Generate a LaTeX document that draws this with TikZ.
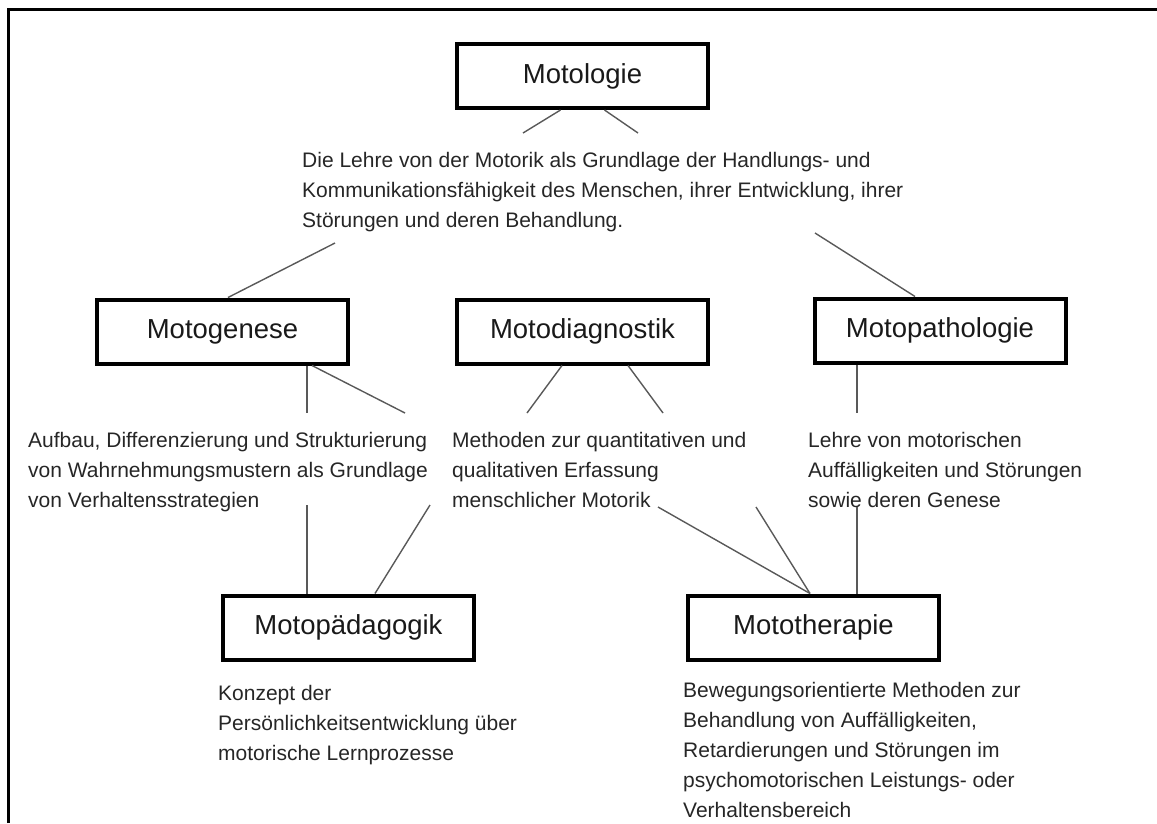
\documentclass[tikz,border=0pt]{standalone}
\usepackage{fontspec}
\setmainfont{Liberation Sans}
\usetikzlibrary{calc}

\tikzset{
	fach/.style={draw, line width=4pt, minimum width=251pt, minimum height=64pt, inner sep=0pt, font=\fontsize{27.5}{33}\selectfont, text=black!90},
	beschr/.style={anchor=north west, align=left, inner sep=0pt, font=\fontsize{21}{30}\selectfont, text=black!85},
	verb/.style={line width=1.4pt, color=black!65},
}

\begin{document}
\begin{tikzpicture}[x=1pt,y=-1pt]
			%%%%% START %%%%%
			
			\useasboundingbox (0,0) rectangle (1157,823);
			\draw[line width=3pt] (8,823) -- (8,9) -- (1157,9);
			
			% Kaesten
			\node[fach] (logie) at (582.5,76) {Motologie};
			\node[fach] (genese) at (222.5,331.5) {Motogenese};
			\node[fach] (diag) at (582.5,331.5) {Motodiagnostik};
			\node[fach] (patho) at (940,330.5) {Motopathologie};
			\node[fach] (paed) at (348.5,627.5) {Motopädagogik};
			\node[fach] (thera) at (813.5,627.5) {Mototherapie};
			
			% Beschreibungen
			\node[beschr] (logietext) at (302,152) {Die Lehre von der Motorik als Grundlage der Handlungs- und\\Kommunikationsfähigkeit des Menschen, ihrer Entwicklung, ihrer\\Störungen und deren Behandlung.};
			\node[beschr] (genesetext) at (28,432) {Aufbau, Differenzierung und Strukturierung\\von Wahrnehmungsmustern als Grundlage\\von Verhaltensstrategien};
			\node[beschr] (diagtext) at (452,432) {Methoden zur quantitativen und\\qualitativen Erfassung\\menschlicher Motorik};
			\node[beschr] (pathotext) at (808,432) {Lehre von motorischen\\Auffälligkeiten und Störungen\\sowie deren Genese};
			\node[beschr] (paedtext) at (218,685) {Konzept der\\Persönlichkeitsentwicklung über\\motorische Lernprozesse};
			\node[beschr] (theratext) at (683,682) {Bewegungsorientierte Methoden zur\\Behandlung von Auffälligkeiten,\\Retardierungen und Störungen im\\psychomotorischen Leistungs- oder\\Verhaltensbereich};
			
			% freie Enden
			\coordinate (l1) at (523,133);
			\coordinate (l2) at (638,133);
			\coordinate (l3) at (335,243);
			\coordinate (l4) at (815,233);
			\coordinate (g1) at (307,413);
			\coordinate (g2) at (405,413);
			\coordinate (d1) at (527,413);
			\coordinate (d2) at (663,413);
			\coordinate (p1) at (857,413);
			\coordinate (g3) at (307,505);
			\coordinate (d3) at (430,505);
			\coordinate (d4) at (658,507);
			\coordinate (d5) at (756,507);
			\coordinate (p2) at (857,507);
			
			% Verbindungen
			\draw[verb] ($(logie.south)+(-22,0)$) -- (l1);
			\draw[verb] ($(logie.south)+(22,0)$) -- (l2);
			\draw[verb] (l3) -- ($(genese.north)+(5.5,0)$);
			\draw[verb] (l4) -- ($(patho.north)+(-25,0)$);
			\draw[verb] ($(genese.south)+(84.5,0)$) -- (g1);
			\draw[verb] ($(genese.south)+(89.5,0)$) -- (g2);
			\draw[verb] ($(diag.south)+(-20.5,0)$) -- (d1);
			\draw[verb] ($(diag.south)+(45.5,0)$) -- (d2);
			\draw[verb] ($(patho.south)+(-83,0)$) -- (p1);
			\draw[verb] (g3) -- ($(paed.north)+(-41.5,0)$);
			\draw[verb] (d3) -- ($(paed.north)+(26.5,0)$);
			\draw[verb] (d4) -- ($(thera.north)+(-3.5,0)$);
			\draw[verb] (d5) -- ($(thera.north)+(-3.5,0)$);
			\draw[verb] (p2) -- ($(thera.north)+(43.5,0)$);
			
			%%%%% END %%%%%
\end{tikzpicture}
\end{document}
